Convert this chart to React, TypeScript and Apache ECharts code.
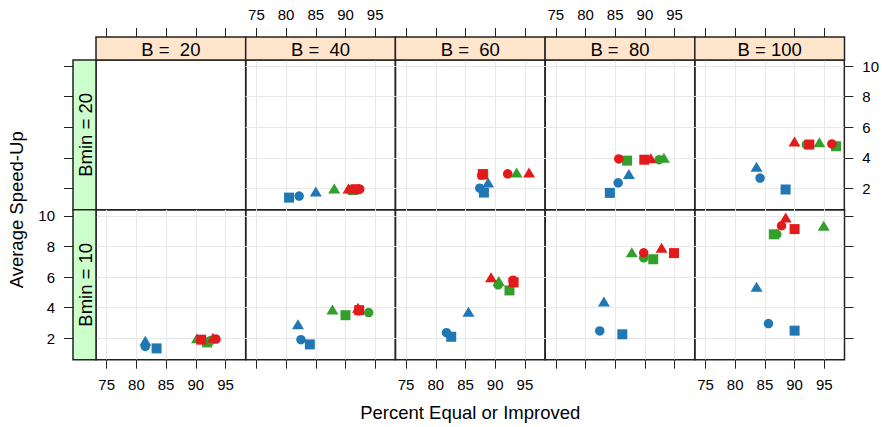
import React, { useEffect, useRef } from "react";
import * as echarts from "echarts";

// Conditioning levels
const bValues = [20, 40, 60, 80, 100];
const bminValues = [20, 10]; // row 0 (top), row 1 (bottom)
const xTicks = [75, 80, 85, 90, 95];
const yTicks = [2, 4, 6, 8, 10];
const xRange = [73.2, 98.4];
const yRange = [0.6, 10.4];

// Panel index = row * 5 + col ; row 0: Bmin = 20, row 1: Bmin = 10 ; col: B = 20..100
// Each entry: [Percent Equal or Improved, Average Speed-Up]
const blueCircle = [null, [82.2, 1.5], [87.4, 2.02], [85.5, 2.37], [84.2, 2.68], [81.5, 1.47], [82.5, 1.91], [81.8, 2.37], [82.4, 2.48], [85.6, 2.96]];
const blueTriangle = [null, [85.0, 1.8], [88.8, 2.39], [87.3, 2.95], [83.6, 3.42], [81.5, 1.84], [82.0, 2.92], [85.5, 3.74], [83.1, 4.4], [83.6, 5.37]];
const blueSquare = [null, [80.5, 1.4], [88.1, 1.73], [84.1, 1.71], [88.5, 1.93], [83.4, 1.34], [84.0, 1.6], [82.6, 2.1], [86.2, 2.26], [90.0, 2.5]];
const greenCircle = [null, [90.8, 1.88], [87.7, 2.85], [92.4, 3.88], [92.0, 4.87], [92.5, 1.85], [93.9, 3.68], [90.5, 5.5], [89.8, 7.26], [87.0, 8.8]];
const greenTriangle = [null, [88.1, 2.0], [93.6, 3.05], [93.2, 4.0], [94.2, 5.02], [90.2, 2.0], [87.8, 3.88], [90.6, 5.75], [87.8, 7.63], [94.9, 9.36]];
const greenSquare = [null, [91.3, 1.9], [88.0, 2.9], [87.0, 3.82], [97.0, 4.76], [91.9, 1.73], [90.0, 3.51], [92.4, 5.13], [91.4, 7.17], [86.5, 8.8]];
const redCircle = [null, [92.4, 1.95], [92.1, 2.96], [85.6, 3.93], [96.3, 4.91], [93.4, 1.95], [92.2, 3.8], [93.0, 5.8], [89.8, 7.59], [87.8, 9.36]];
const redTriangle = [null, [90.5, 2.0], [95.7, 3.05], [91.0, 3.97], [90.0, 5.07], [92.9, 2.04], [92.1, 4.0], [89.3, 6.0], [92.8, 7.92], [88.5, 9.9]];
const redSquare = [null, [91.7, 1.95], [87.9, 2.94], [89.9, 3.88], [92.5, 4.87], [90.9, 1.91], [92.3, 3.84], [93.1, 5.66], [94.9, 7.57], [90.0, 9.14]];

const BLUE = "#1F78B4";
const GREEN = "#33A02C";
const RED = "#E31A1C";

const groups = [
  { data: blueCircle, color: BLUE, symbol: "circle", size: 9.5 },
  { data: blueTriangle, color: BLUE, symbol: "triangle", size: [12, 10] },
  { data: blueSquare, color: BLUE, symbol: "rect", size: 10 },
  { data: greenCircle, color: GREEN, symbol: "circle", size: 9.5 },
  { data: greenTriangle, color: GREEN, symbol: "triangle", size: [12, 10] },
  { data: greenSquare, color: GREEN, symbol: "rect", size: 10 },
  { data: redCircle, color: RED, symbol: "circle", size: 9.5 },
  { data: redTriangle, color: RED, symbol: "triangle", size: [12, 10] },
  { data: redSquare, color: RED, symbol: "rect", size: 10 },
];

const FONT = "'Liberation Sans', Arial, Helvetica, sans-serif";
const LEFT = 96;
const PW = 149.7;
const TOP = 60;
const PH = 149.85;
const STRIP = 23;
const LINE = "#222";
const GRIDLINE = "#E8E8E8";

export default function App() {
  const ref = useRef<HTMLDivElement>(null);
  useEffect(() => {
    if (!ref.current) return;
    const chart = echarts.init(ref.current, undefined, { renderer: "svg" });

    const grids: any[] = [];
    const xAxes: any[] = [];
    const yAxes: any[] = [];
    const series: any[] = [];
    for (let row = 0; row < 2; row++) {
      for (let col = 0; col < 5; col++) {
        const p = row * 5 + col;
        grids.push({
          left: LEFT + PW * col,
          top: TOP + PH * row,
          width: PW,
          height: PH,
          show: true,
          borderColor: LINE,
          borderWidth: 1.5,
          backgroundColor: "transparent",
          containLabel: false,
        });
        xAxes.push({
          gridIndex: p,
          type: "value",
          min: xRange[0],
          max: xRange[1],
          position: row === 0 ? "top" : "bottom",
          offset: row === 0 ? STRIP : 0,
          axisLine: { show: false },
          axisTick: {
            show: true,
            inside: false,
            length: 9,
            customValues: xTicks,
            lineStyle: { color: LINE, width: 1 },
          },
          axisLabel: {
            show: row === 0 ? col % 2 === 1 : col % 2 === 0,
            customValues: xTicks,
            fontSize: 15,
            fontFamily: FONT,
            color: "#000",
            margin: row === 0 ? 15 : 17,
          },
          splitLine: { show: p !== 0, lineStyle: { color: GRIDLINE, width: 1 } },
        });
        const isLeft = col === 0;
        const isRight = col === 4;
        yAxes.push({
          gridIndex: p,
          type: "value",
          min: yRange[0],
          max: yRange[1],
          position: isRight ? "right" : "left",
          offset: isLeft ? STRIP : 0,
          axisLine: { show: false },
          axisTick: {
            show: isLeft || isRight,
            inside: false,
            length: 9,
            customValues: yTicks,
            lineStyle: { color: LINE, width: 1 },
          },
          axisLabel: {
            show: (isLeft && row === 1) || (isRight && row === 0),
            customValues: yTicks,
            fontSize: 15,
            fontFamily: FONT,
            color: "#000",
            margin: 18,
          },
          splitLine: { show: p !== 0, lineStyle: { color: GRIDLINE, width: 1 } },
        });
        groups.forEach((g) => {
          const d = g.data[p];
          if (!d) return;
          series.push({
            type: "scatter",
            xAxisIndex: p,
            yAxisIndex: p,
            data: [d],
            symbol: g.symbol,
            symbolSize: g.size,
            itemStyle: { color: g.color, opacity: 1 },
            silent: true,
          });
        });
      }
    }

    const graphics: any[] = [];
    bValues.forEach((b, col) => {
      graphics.push({
        type: "rect",
        shape: { x: LEFT + PW * col, y: TOP - STRIP, width: PW, height: STRIP },
        style: { fill: "#FFE5CC", stroke: LINE, lineWidth: 1.5 },
        z: 10,
      });
      const label = "B = " + (b < 100 ? " " : "") + b;
      graphics.push({
        type: "text",
        x: LEFT + PW * col + PW / 2,
        y: TOP - STRIP / 2 + 1,
        style: {
          text: label,
          fill: "#000",
          fontSize: 18.5,
          fontFamily: FONT,
          align: "center",
          verticalAlign: "middle",
        },
        z: 11,
      });
    });
    bminValues.forEach((bm, row) => {
      graphics.push({
        type: "rect",
        shape: { x: LEFT - STRIP, y: TOP + PH * row, width: STRIP, height: PH },
        style: { fill: "#CCFFCC", stroke: LINE, lineWidth: 1.5 },
        z: 10,
      });
      graphics.push({
        type: "text",
        x: LEFT - STRIP / 2 + 1,
        y: TOP + PH * row + PH / 2,
        rotation: Math.PI / 2,
        style: {
          text: "Bmin = " + bm,
          fill: "#000",
          fontSize: 18.5,
          fontFamily: FONT,
          align: "center",
          verticalAlign: "middle",
        },
        z: 11,
      });
    });
    graphics.push({
      type: "text",
      x: LEFT + (PW * 5) / 2,
      y: 412,
      style: {
        text: "Percent Equal or Improved",
        fill: "#000",
        fontSize: 18.5,
        fontFamily: FONT,
        align: "center",
        verticalAlign: "middle",
      },
    });
    graphics.push({
      type: "text",
      x: 16,
      y: TOP + PH,
      rotation: Math.PI / 2,
      style: {
        text: "Average Speed-Up",
        fill: "#000",
        fontSize: 18.5,
        fontFamily: FONT,
        align: "center",
        verticalAlign: "middle",
      },
    });

    chart.setOption({
      animation: false,
      backgroundColor: "#fff",
      grid: grids,
      xAxis: xAxes,
      yAxis: yAxes,
      series,
      graphic: graphics,
    });
    return () => chart.dispose();
  }, []);
  return (
    <div
      ref={ref}
      style={{ position: "absolute", left: 0, top: 0, width: 882, height: 427 }}
    />
  );
}
